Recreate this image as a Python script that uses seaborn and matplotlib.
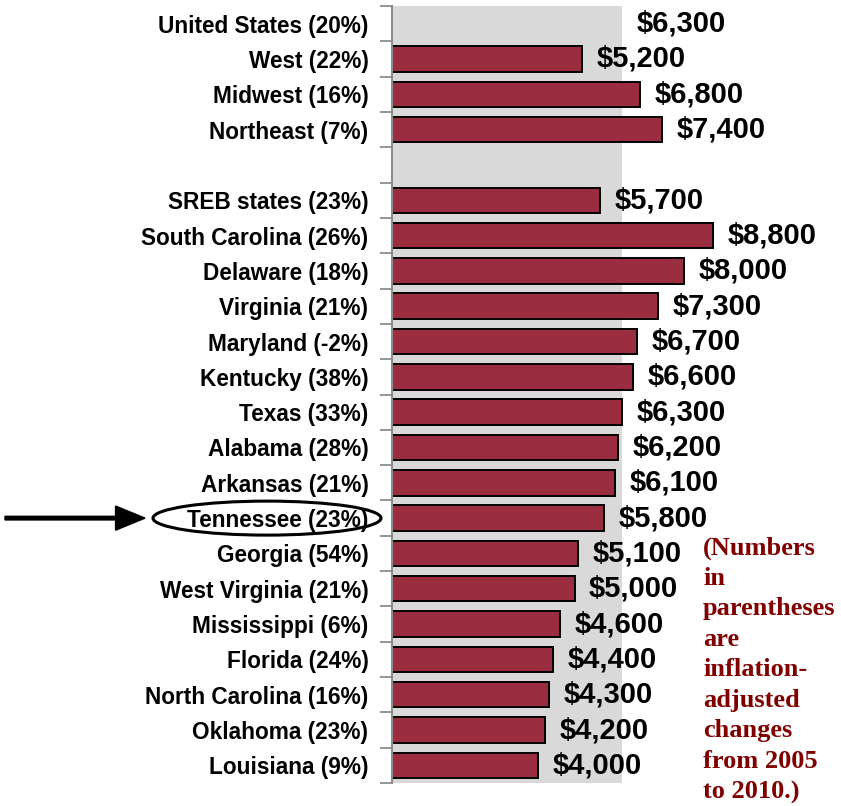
import matplotlib
matplotlib.use("Agg")
import matplotlib.pyplot as plt
from matplotlib.patches import Ellipse, FancyArrow
import numpy as np
import pandas as pd
import seaborn as sns

# row labels (top to bottom); "" is the spacer row
row_labels = [
    "United States (20%)", "West (22%)", "Midwest (16%)", "Northeast (7%)", "",
    "SREB states (23%)", "South Carolina (26%)", "Delaware (18%)", "Virginia (21%)",
    "Maryland (-2%)", "Kentucky (38%)", "Texas (33%)", "Alabama (28%)",
    "Arkansas (21%)", "Tennessee (23%)", "Georgia (54%)", "West Virginia (21%)",
    "Mississippi (6%)", "Florida (24%)", "North Carolina (16%)", "Oklahoma (23%)",
    "Louisiana (9%)",
]
# bar values (United States drawn as the grey background band instead)
bar_labels = row_labels[1:4] + row_labels[5:]
bar_values = [5200, 6800, 7400,
              5700, 8800, 8000, 7300, 6700, 6600, 6300, 6200, 6100, 5800,
              5100, 5000, 4600, 4400, 4300, 4200, 4000]
us_value = 6300
highlight = "Tennessee (23%)"
note_lines = ["(Numbers", "in", "parentheses", "are", "inflation-", "adjusted",
              "changes", "from 2005", "to 2010.)"]

df = pd.DataFrame({"label": bar_labels, "value": bar_values})

sns.set_style("white")
plt.rcParams["font.family"] = ["Liberation Sans", "DejaVu Sans"]

fig = plt.figure(figsize=(8.41, 8.06), dpi=100)
ax = fig.add_axes([392 / 841, 1 - 783 / 806, 449 / 841, 777 / 806])

ax.axvspan(0, us_value, color="#D9D9D9", zorder=0, lw=0)
sns.barplot(data=df, y="label", x="value", order=row_labels, orient="h",
            color="#9B2D40", edgecolor="black", linewidth=1.4, width=0.72,
            saturation=1, ax=ax, zorder=2)

ax.set_xlim(0, 12300)
ax.set_ylim(len(row_labels) - 0.5, -0.5)
ax.set_xlabel("")
ax.set_ylabel("")
ax.set_xticks([])
for s in ["top", "right", "bottom"]:
    ax.spines[s].set_visible(False)
ax.spines["left"].set_color("#8C8C8C")
ax.spines["left"].set_linewidth(1.5)
ax.tick_params(axis="y", which="major", left=False, length=0, pad=17,
               labelsize=16.3, labelcolor="black")
ax.set_yticks(np.arange(-0.5, len(row_labels), 1.0), minor=True)
ax.tick_params(axis="y", which="minor", left=True, length=9, width=1.3,
               color="#8C8C8C", direction="out")
for t in ax.get_yticklabels():
    t.set_fontweight("bold")

# value labels
values_by_row = dict(zip(bar_labels, bar_values))
values_by_row[row_labels[0]] = us_value
for i, lab in enumerate(row_labels):
    if lab in values_by_row:
        v = values_by_row[lab]
        ax.text(v + 400, i, f"${v:,}", va="center", ha="left",
                fontsize=21, fontweight="bold", color="black")

# highlight ellipse and arrow
yi = row_labels.index(highlight)
y_fig = 1 - (6 + (yi + 0.5) * 777 / len(row_labels)) / 806
fig.patches.append(Ellipse((267 / 841, y_fig), 228 / 841, 34 / 806,
                           transform=fig.transFigure, fill=False,
                           edgecolor="black", linewidth=2.2))
fig.patches.append(FancyArrow(
    5 / 841, y_fig, 140 / 841, 0, width=0.0045, head_width=0.03,
    head_length=0.035, length_includes_head=True, color="black",
    transform=fig.transFigure))

# note
for k, line in enumerate(note_lines):
    fig.text(703 / 841, 1 - (548 + k * 30.5) / 806, line, ha="left", va="center",
             fontsize=19, fontweight="bold", color="#800000",
             family=["Liberation Serif", "DejaVu Serif"])

fig.savefig("out.png", dpi=100)
